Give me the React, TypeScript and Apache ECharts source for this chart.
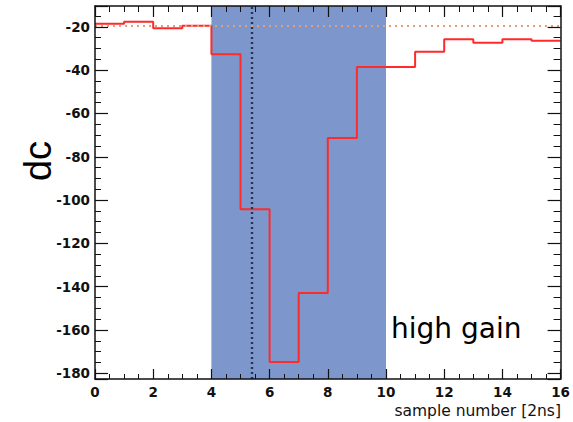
import React, { useEffect, useRef } from "react";
import * as echarts from "echarts";

// histogram bin edges (sample number) and bin contents (dc)
const binEdges = [0, 1, 2, 3, 4, 5, 6, 7, 8, 9, 10, 11, 12, 13, 14, 15, 16];
const dcValues = [-18.6, -17.7, -20.7, -19.5, -32.7, -104.2, -174.7, -142.9, -71.3, -38.6, -38.6, -31.5, -25.8, -27.4, -25.8, -26.5];
const bandRange = [4, 10];
const markerSample = 5.4;
const pedestalLevel = -19.5;
const xRange = [0, 16];
const yRange = [-182.6, -10.4];

export default function App() {
  const ref = useRef<HTMLDivElement>(null);
  useEffect(() => {
    document.body.style.margin = "0";
    const chart = echarts.init(ref.current!, null, { renderer: "svg" });
    const stepData = binEdges.map((x, i) => [x, dcValues[Math.min(i, dcValues.length - 1)]]);
    const labelStyle = {
      fontFamily: "DejaVu Sans",
      fontWeight: "bold" as const,
      fontSize: 13.5,
      color: "#111",
    };
    const axisLine = { show: true, onZero: false, lineStyle: { color: "#111", width: 1.5 } };
    const yFormatter = (v: number) => (Math.abs(v % 20) < 1e-6 ? String(v) : "");
    const option: any = {
      animation: false,
      grid: { left: 95, right: 12, top: 6, bottom: 43 },
      xAxis: [
        {
          type: "value",
          min: xRange[0],
          max: xRange[1],
          interval: 2,
          position: "bottom",
          z: 10,
          axisLine,
          splitLine: { show: false },
          axisTick: { inside: true, length: 10, lineStyle: { color: "#111", width: 1.2 } },
          minorTick: { show: true, splitNumber: 4, length: 5, lineStyle: { color: "#111", width: 1 } },
          axisLabel: { ...labelStyle, margin: 6 },
        },
        {
          type: "value",
          min: xRange[0],
          max: xRange[1],
          interval: 2,
          position: "top",
          z: 10,
          axisLine,
          splitLine: { show: false },
          axisTick: { inside: true, length: 11, lineStyle: { color: "#111", width: 1.2 } },
          minorTick: { show: true, splitNumber: 4, length: 6, lineStyle: { color: "#111", width: 1 } },
          axisLabel: { show: false },
        },
      ],
      yAxis: [
        {
          type: "value",
          min: yRange[0],
          max: yRange[1],
          splitNumber: 8,
          position: "left",
          z: 10,
          axisLine,
          splitLine: { show: false },
          axisTick: { inside: true, length: 13, lineStyle: { color: "#111", width: 1.2 } },
          minorTick: { show: true, splitNumber: 4, length: 6, lineStyle: { color: "#111", width: 1 } },
          axisLabel: { ...labelStyle, margin: 5, formatter: yFormatter },
        },
        {
          type: "value",
          min: yRange[0],
          max: yRange[1],
          splitNumber: 8,
          position: "right",
          z: 10,
          axisLine,
          splitLine: { show: false },
          axisTick: { inside: true, length: 13, lineStyle: { color: "#111", width: 1.2 } },
          minorTick: { show: true, splitNumber: 4, length: 7, lineStyle: { color: "#111", width: 1 } },
          axisLabel: { show: false },
        },
      ],
      series: [
        {
          type: "line",
          z: 1,
          data: [],
          xAxisIndex: 0,
          yAxisIndex: 0,
          markArea: {
            silent: true,
            itemStyle: { color: "#7d97cd", opacity: 1 },
            data: [[{ xAxis: bandRange[0] }, { xAxis: bandRange[1] }]],
          },
        },
        {
          type: "line",
          z: 3,
          step: "end",
          xAxisIndex: 0,
          yAxisIndex: 0,
          data: stepData,
          showSymbol: false,
          symbol: "none",
          lineStyle: { color: "#ff2a2a", width: 2 },
        },
        {
          type: "line",
          z: 4,
          data: [],
          xAxisIndex: 0,
          yAxisIndex: 0,
          markLine: {
            silent: true,
            symbol: "none",
            label: { show: false },
            data: [
              { xAxis: markerSample, lineStyle: { color: "#2a3350", width: 2.4, type: [2, 3] } },
              { yAxis: pedestalLevel, lineStyle: { color: "#e0a07c", width: 1.8, type: [2, 4] } },
            ],
          },
        },
      ],
      graphic: [
        {
          type: "text",
          x: 38,
          y: 161,
          rotation: Math.PI / 2,
          z: 20,
          style: {
            text: "dc",
            fontFamily: "Liberation Sans",
            fontSize: 38,
            fill: "#000",
            textAlign: "center",
            textVerticalAlign: "middle",
          },
        },
        {
          type: "text",
          x: 391,
          y: 328,
          z: 20,
          style: {
            text: "high gain",
            fontFamily: "DejaVu Sans",
            fontSize: 28,
            fill: "#000",
            textAlign: "left",
            textVerticalAlign: "middle",
          },
        },
        {
          type: "text",
          x: 561,
          y: 411,
          z: 20,
          style: {
            text: "sample number [2ns]",
            fontFamily: "DejaVu Sans",
            fontSize: 15.5,
            fill: "#111",
            textAlign: "right",
            textVerticalAlign: "middle",
          },
        },
      ],
    };
    chart.setOption(option);
    return () => chart.dispose();
  }, []);
  return <div ref={ref} style={{ position: "absolute", left: 0, top: 0, width: 573, height: 422 }} />;
}
